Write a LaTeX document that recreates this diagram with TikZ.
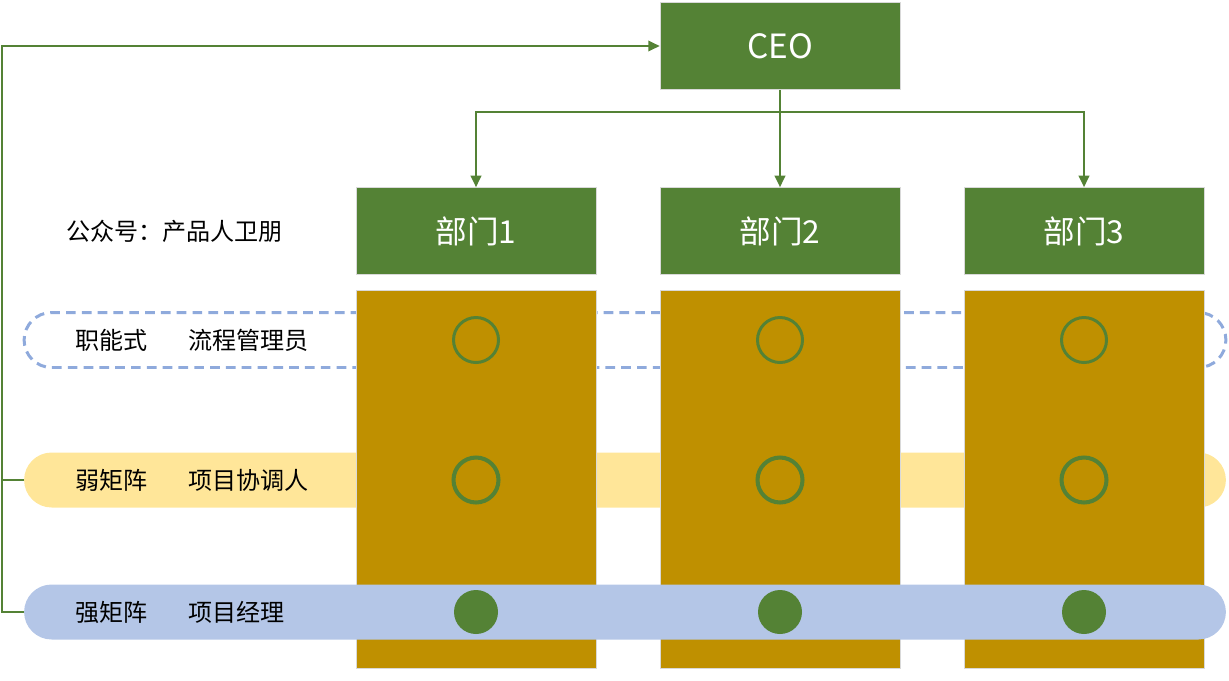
\documentclass[tikz,border=0pt]{standalone}
\usepackage{fontspec}
\setmainfont{Noto Sans CJK SC}
\usepackage{tikz}
\usetikzlibrary{arrows.meta,calc}
\definecolor{mgreen}{HTML}{548235}
\definecolor{mgold}{HTML}{BF9000}
\definecolor{myellow}{HTML}{FFE699}
\definecolor{mblue}{HTML}{B4C6E7}
\definecolor{mdash}{HTML}{8FAADC}
\tikzset{
  headbox/.style={rectangle,fill=mgreen,draw=black!15,thin,inner sep=0pt,
    minimum width=4.8cm,minimum height=1.74cm,text=white,font=\fontsize{18}{21}\selectfont},
  colbox/.style={rectangle,fill=mgold,draw=black!15,thin,inner sep=0pt,
    minimum width=4.8cm,minimum height=7.56cm},
  band/.style={rectangle,rounded corners=0.55cm,inner sep=0pt,
    minimum width=24.04cm,minimum height=1.1cm},
  ring/.style={circle,draw=mgreen,line width=1.7pt,minimum size=0.9cm,inner sep=0pt},
  dot/.style={circle,fill=mgreen,minimum size=0.88cm,inner sep=0pt},
  lbl/.style={anchor=west,inner sep=0pt,font=\fontsize{13.7}{16}\selectfont},
  link/.style={draw=mgreen,line width=1.1pt,-{Triangle[length=6.5pt,width=6pt]}}
}
\begin{document}
\begin{tikzpicture}[x=0.02cm,y=-0.02cm]
\useasboundingbox (0,0) rectangle (1229,680);
% bands behind the columns
\node[band,draw=mdash,dash pattern=on 5.5pt off 3.5pt,line width=1.7pt] (func) at (625,340) {};
\node[band,fill=myellow] (weak) at (625,480) {};
% boxes
\node[headbox,font=\fontsize{19}{22}\selectfont] (ceo) at (780,46) {CEO};
\node[headbox] (d1) at (476,231) {部门1};
\node[headbox] (d2) at (780,231) {部门2};
\node[headbox] (d3) at (1084,231) {部门3};
\node[colbox] (c1) at (476,479) {};
\node[colbox] (c2) at (780,479) {};
\node[colbox] (c3) at (1084,479) {};
% strong matrix band on top
\node[band,fill=mblue] (strong) at (625,612) {};
\foreach \x/\n in {476/1,780/2,1084/3}{
  \node[ring] (r\n) at (\x,340) {};
  \node[ring,line width=2.3pt] (s\n) at (\x,480) {};
  \node[dot] (p\n) at (\x,612) {};
}
% labels
\node[lbl] (mark) at (66,231) {公众号：产品人卫朋};
\node[lbl] (t1) at (75,340) {职能式};
\node[lbl] (u1) at (188,340) {流程管理员};
\node[lbl] (t2) at (75,480) {弱矩阵};
\node[lbl] (u2) at (188,480) {项目协调人};
\node[lbl] (t3) at (75,612) {强矩阵};
\node[lbl] (u3) at (188,612) {项目经理};
% connectors
\coordinate (split) at (780,112);
\coordinate (loop) at (2,46);
\draw[link] (ceo.south) -- (d2.north);
\draw[link] (split) -| (d1.north);
\draw[link] (split) -| (d3.north);
\draw[link] (strong.west) -| (loop) -- (ceo.west);
\draw[draw=mgreen,line width=1.1pt] (weak.west) -- (weak.west -| loop);
\end{tikzpicture}
\end{document}
